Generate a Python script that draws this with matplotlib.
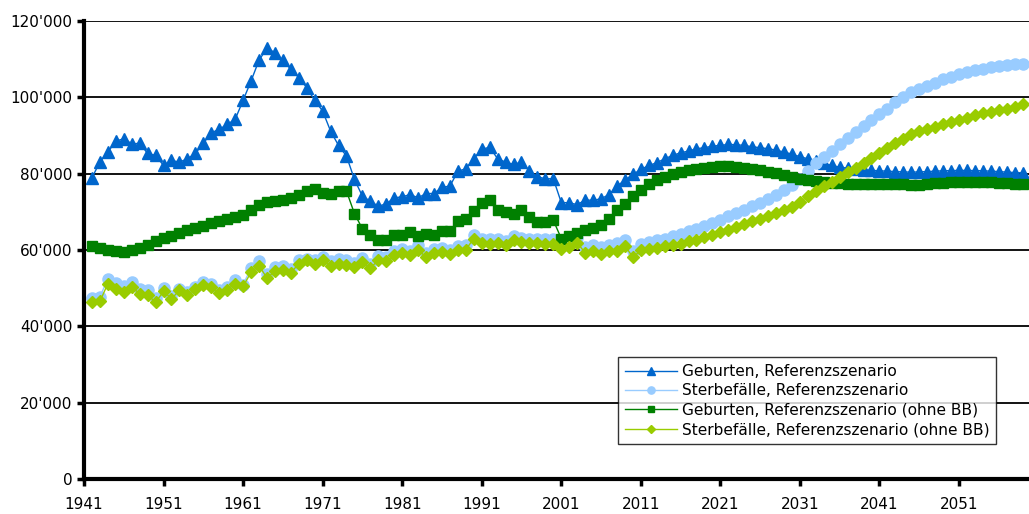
import numpy as np
import matplotlib
matplotlib.use("Agg")
import matplotlib.pyplot as plt
from matplotlib.ticker import FuncFormatter

# Jahre (Kategorien)
years = np.arange(1942, 2060)

# Geburten, Referenzszenario
geburten = [78900, 83100, 85650, 88530, 89150, 87840, 87930, 85300, 84780, 82150,
            83460, 83030, 83900, 85300, 87930, 90730, 91600, 92910, 94220, 99210,
            104280, 109710, 112860, 111730, 109710, 107350, 105170, 102550, 99210, 96410,
            91150, 87400, 84600, 78480, 74100, 72780, 71470, 72100, 73670, 73940,
            74540, 73670, 74800, 74800, 76460, 76720, 80650, 81280, 83900, 86350,
            86950, 83900, 83030, 82420, 83030, 80650, 79190, 78660, 78660, 72440,
            72360, 71900, 73050, 73050, 73400, 74540, 76720, 78300, 79790, 81100,
            82150, 82850, 83900, 84780, 85480, 85910, 86540, 86800, 87220, 87400,
            87660, 87580, 87400, 87050, 86800, 86540, 86170, 85650, 85120, 84440,
            83900, 83300, 82700, 82150, 81700, 81450, 81200, 81000, 80850, 80750,
            80650, 80550, 80450, 80400, 80450, 80550, 80650, 80750, 80800, 80850,
            80850, 80800, 80750, 80650, 80550, 80400, 80300, 80200]

# Sterbefälle, Referenzszenario
sterbefaelle = [47430, 47690, 52490, 51360, 50660, 51630, 49870, 49610, 47430, 50050,
                47860, 49780, 48900, 50310, 51630, 51180, 49430, 50310, 52230, 50920,
                55300, 57040, 53800, 55560, 55900, 55040, 57300, 57740, 57300, 58200,
                57000, 57530, 57270, 56660, 57880, 56400, 58400, 58140, 59710, 60340,
                59710, 61200, 59190, 60340, 60600, 60070, 61020, 61200, 64040, 62950,
                62780, 62950, 62430, 63650, 63120, 62950, 62950, 62780, 62780, 61300,
                62000, 63050, 60810, 61420, 60810, 61420, 61850, 62730, 59650, 61680,
                62020, 62550, 62990, 63600, 64300, 64910, 65530, 66400, 67100, 67980,
                68850, 69740, 70600, 71470, 72360, 73400, 74540, 75670, 76900, 78480,
                80660, 82680, 84440, 85910, 87660, 89240, 90900, 92470, 93960, 95540,
                97030, 98770, 100080, 101390, 102270, 102970, 103850, 104720, 105430, 106030,
                106640, 107170, 107520, 107950, 108220, 108480, 108660, 108750]

# Geburten, Referenzszenario (ohne BB)
geburten_obb = [60980, 60540, 60100, 59840, 59400, 59920, 60540, 61420, 62280, 63170,
                63600, 64480, 65170, 65790, 66400, 67100, 67530, 68150, 68680, 69290,
                70600, 71920, 72520, 72780, 73050, 73670, 74540, 75410, 76030, 74980,
                74800, 75410, 75410, 69550, 65530, 64040, 62550, 62730, 64040, 64040,
                64650, 63600, 64300, 64040, 64910, 64910, 67710, 68150, 70170, 72360,
                73230, 70430, 69900, 69470, 70600, 68580, 67270, 67270, 67800, 63000,
                63600, 64480, 65350, 65790, 66670, 68150, 70430, 72180, 74100, 75670,
                77170, 78220, 79080, 79790, 80390, 80840, 81280, 81540, 81810, 81980,
                81980, 81810, 81540, 81280, 80930, 80490, 80050, 79610, 79190, 78660,
                78300, 78000, 77800, 77600, 77500, 77400, 77400, 77350, 77350, 77300,
                77300, 77250, 77200, 77100, 77150, 77300, 77500, 77650, 77750, 77800,
                77850, 77850, 77800, 77700, 77600, 77500, 77400, 77300]

# Sterbefälle, Referenzszenario (ohne BB)
sterbefaelle_obb = [46280, 46540, 51180, 49780, 48990, 50310, 48560, 48290, 46280, 49170,
                    47240, 49430, 48290, 49780, 50920, 50310, 48730, 49610, 51180, 50480,
                    54150, 55900, 52670, 54420, 54680, 54000, 56430, 57480, 56430, 57300,
                    55900, 56430, 56170, 55560, 56780, 55300, 57300, 57040, 58610, 59240,
                    58610, 60100, 58090, 59240, 59500, 58970, 59920, 60100, 62990, 61850,
                    61680, 61850, 61330, 62550, 62020, 61850, 61850, 61680, 61680, 60200,
                    60900, 61950, 59240, 59840, 59050, 59650, 59840, 61150, 58090, 59920,
                    60280, 60540, 60980, 61330, 61680, 62280, 62730, 63430, 64040, 64650,
                    65350, 66060, 66850, 67530, 68240, 68850, 69740, 70600, 71310, 72560,
                    74100, 75410, 76720, 77760, 79080, 80390, 81540, 82850, 84170, 85480,
                    86800, 87930, 89150, 90290, 91160, 91780, 92300, 92910, 93520, 94040,
                    94670, 95280, 95800, 96140, 96670, 97030, 97560, 98160]

xticks = [1941, 1951, 1961, 1971, 1981, 1991, 2001, 2011, 2021, 2031, 2041, 2051]
yticks = [0, 20000, 40000, 60000, 80000, 100000, 120000]

fig = plt.figure(figsize=(10.29, 5.14), dpi=100)
ax = fig.add_axes([84 / 1029, 1 - 479 / 514, 1 - 84 / 1029, (479 - 21) / 514])

ax.plot(years, geburten, color='#0066CC', lw=1, marker='^', ms=8,
        label='Geburten, Referenzszenario')
ax.plot(years, sterbefaelle, color='#99CCFF', lw=1, marker='o', ms=8,
        label='Sterbefälle, Referenzszenario')
ax.plot(years, geburten_obb, color='#008000', lw=1, marker='s', ms=7,
        label='Geburten, Referenzszenario (ohne BB)')
ax.plot(years, sterbefaelle_obb, color='#99CC00', lw=1, marker='D', ms=6.5,
        label='Sterbefälle, Referenzszenario (ohne BB)')

ax.set_xlim(1941, 2059.8)
ax.set_ylim(0, 120000)
ax.set_xticks(xticks)
ax.set_yticks(yticks)
ax.yaxis.set_major_formatter(FuncFormatter(lambda v, p: f"{int(v):,}".replace(',', "'")))
ax.grid(axis='y', color='black', lw=1.3)
ax.set_axisbelow(True)

for s in ['top', 'right']:
    ax.spines[s].set_visible(False)
for s in ['left', 'bottom']:
    ax.spines[s].set_linewidth(3)
ax.tick_params(axis='both', labelsize=11, width=2.5, length=5, direction='out')
ax.tick_params(axis='x', pad=8)

# Legende
leg = ax.legend(loc='upper left', bbox_to_anchor=(0.565, 0.266), borderaxespad=0,
                fontsize=11.1, frameon=True, fancybox=False, edgecolor='black',
                borderpad=0.45, labelspacing=0.28, handlelength=3.4, handletextpad=0.3,
                markerscale=0.65)
leg.get_frame().set_linewidth(1)

fig.savefig('out.png', dpi=100)
